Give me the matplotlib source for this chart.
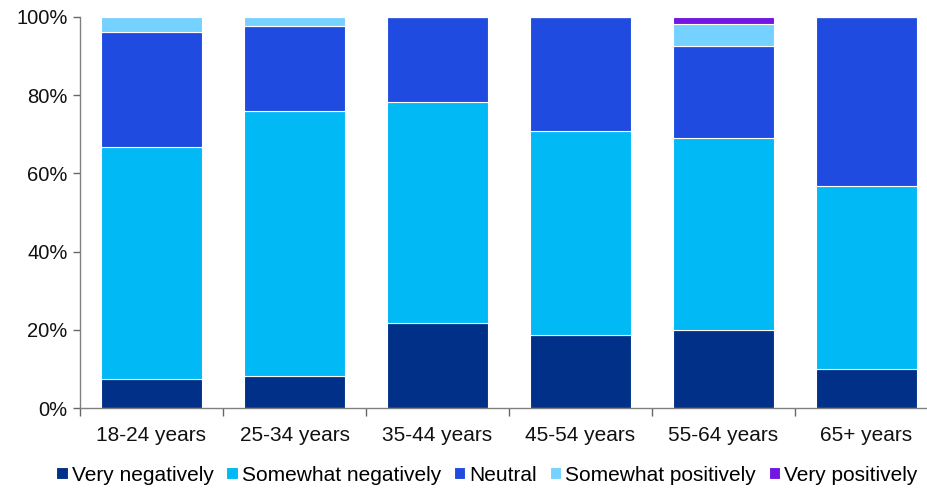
import matplotlib
matplotlib.use("Agg")
import matplotlib.pyplot as plt
import numpy as np
from matplotlib.ticker import FixedLocator, PercentFormatter

plt.rcParams['font.family'] = ['Liberation Sans', 'DejaVu Sans']

age_groups = ["18-24 years", "25-34 years", "35-44 years", "45-54 years", "55-64 years", "65+ years"]
series_names = ["Very negatively", "Somewhat negatively", "Neutral", "Somewhat positively", "Very positively"]

very_negatively = [7.4, 8.2, 21.7, 18.7, 20.0, 10.0]
somewhat_negatively = [59.3, 67.7, 56.6, 52.1, 49.0, 46.7]
neutral = [29.5, 21.9, 21.7, 29.2, 23.6, 43.3]
somewhat_positively = [3.8, 2.2, 0.0, 0.0, 5.6, 0.0]
very_positively = [0.0, 0.0, 0.0, 0.0, 1.8, 0.0]

colors = ["#003087", "#00B9F5", "#1F4BE0", "#75D1FF", "#7216E4"]

fig = plt.figure(figsize=(9.27, 4.90), dpi=100)
ax = fig.add_axes([80 / 927, 82 / 490, 858 / 927, 391 / 490])

x = np.arange(len(age_groups))
bottom = np.zeros(len(age_groups))
for name, vals, col in zip(series_names,
                           [very_negatively, somewhat_negatively, neutral,
                            somewhat_positively, very_positively],
                           colors):
    vals = np.array(vals)
    ax.bar(x, vals, width=0.706, bottom=bottom, color=col, label=name,
           edgecolor="white", linewidth=0.8)
    bottom += vals

ax.set_xlim(-0.5, len(age_groups) - 0.5)
ax.set_ylim(0, 100)
ax.yaxis.set_major_locator(FixedLocator([0, 20, 40, 60, 80, 100]))
ax.yaxis.set_major_formatter(PercentFormatter(decimals=0))

# category labels centred, separator ticks between groups
ax.set_xticks(x)
ax.set_xticklabels(age_groups)
ax.tick_params(axis="x", which="major", length=0, pad=13, labelsize=15, labelcolor="#111111")
ax.set_xticks(np.arange(-0.5, len(age_groups), 1.0), minor=True)
ax.tick_params(axis="x", which="minor", length=6, width=1, color="#666666", direction="out")

ax.tick_params(axis="y", length=5, width=1, color="#666666", direction="out",
               labelsize=14.5, labelcolor="#111111", pad=4)

for s in ["top", "right"]:
    ax.spines[s].set_visible(False)
for s in ["left", "bottom"]:
    ax.spines[s].set_color("#808080")
    ax.spines[s].set_linewidth(1)

fig.legend(loc="center", bbox_to_anchor=(487 / 927, 1 - 475 / 490), ncol=5,
           frameon=False, fontsize=15, handlelength=0.55, handleheight=0.55,
           handletextpad=0.2, columnspacing=0.6, borderaxespad=0)

fig.savefig("out.png", dpi=100)
